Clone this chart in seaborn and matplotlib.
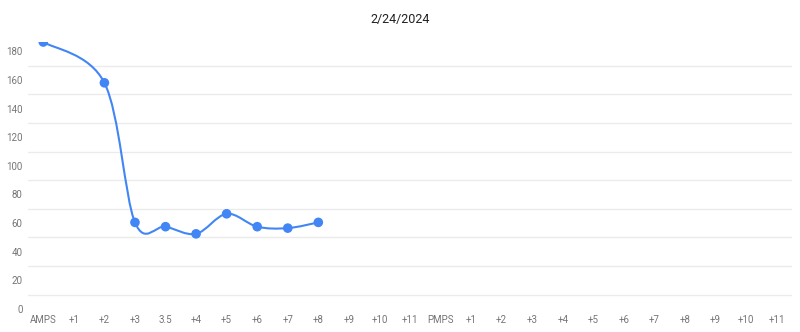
import numpy as np
import pandas as pd
import matplotlib
matplotlib.use("Agg")
import matplotlib.pyplot as plt
from matplotlib.path import Path
from matplotlib.patches import PathPatch
import seaborn as sns

# ---- data ----
title = "2/24/2024"
categories = ["AMPS", "+1", "+2", "+3", "3.5", "+4", "+5", "+6", "+7", "+8", "+9", "+10", "+11",
              "PMPS", "+1", "+2", "+3", "+4", "+5", "+6", "+7", "+8", "+9", "+10", "+11"]
values = [186.5, None, 158, 60.5, 57.5, 52.5, 66.5, 57.5, 56.5, 60.5,
          None, None, None, None, None, None, None, None, None, None, None, None, None, None, None]
ytick_values = [0, 20, 40, 60, 80, 100, 120, 140, 160, 180]
grid_values = [10, 30, 50, 70, 90, 110, 130, 150, 170]

sns.set_theme(style="white")
plt.rcParams["font.family"] = ["Roboto", "DejaVu Sans"]

df = pd.DataFrame({"pos": np.arange(len(categories)), "value": values}).dropna()

fig = plt.figure(figsize=(8.0, 3.32), dpi=100)
ax = fig.add_axes([28 / 800, 23 / 332, (792 - 28) / 800, (309 - 42) / 332])

blue = "#4285F4"

# smooth curve (Catmull-Rom style cubic Bezier through data points)
xs = df["pos"].to_numpy(dtype=float)
ys = df["value"].to_numpy(dtype=float)
verts = [(xs[0], ys[0])]
codes = [Path.MOVETO]
n = len(xs)
for i in range(n - 1):
    p0 = np.array([xs[max(i - 1, 0)], ys[max(i - 1, 0)]])
    p1 = np.array([xs[i], ys[i]])
    p2 = np.array([xs[i + 1], ys[i + 1]])
    p3 = np.array([xs[min(i + 2, n - 1)], ys[min(i + 2, n - 1)]])
    c1 = p1 + (p2 - p0) / 6.0
    c2 = p2 - (p3 - p1) / 6.0
    verts += [tuple(c1), tuple(c2), tuple(p2)]
    codes += [Path.CURVE4] * 3
ax.add_patch(PathPatch(Path(verts, codes), facecolor="none", edgecolor=blue, lw=1.5, zorder=3))

sns.scatterplot(data=df, x="pos", y="value", ax=ax, color=blue, s=48, edgecolor="none",
                zorder=4, legend=False)

ax.set_xlim(-0.5, len(categories) - 0.5)
ax.set_ylim(0, 186.5)
ax.set_xticks(range(len(categories)))
ax.set_xticklabels(categories)
ax.set_yticks(ytick_values)
ax.set_yticklabels([str(v) for v in ytick_values])
ax.set_yticks(grid_values, minor=True)
ax.grid(False)
ax.yaxis.grid(True, which="minor", color="#ebebeb", lw=1.0)
ax.set_axisbelow(True)
ax.tick_params(axis="both", which="both", length=0, colors="#757575", labelsize=7)
ax.tick_params(axis="x", pad=4)
ax.tick_params(axis="y", pad=4)
for s in ax.spines.values():
    s.set_visible(False)
ax.set_xlabel("")
ax.set_ylabel("")

fig.text(0.5, 1 - 19 / 332, title, ha="center", va="center", fontsize=9, color="#222222")

fig.savefig("out.png", dpi=100, facecolor="white")
